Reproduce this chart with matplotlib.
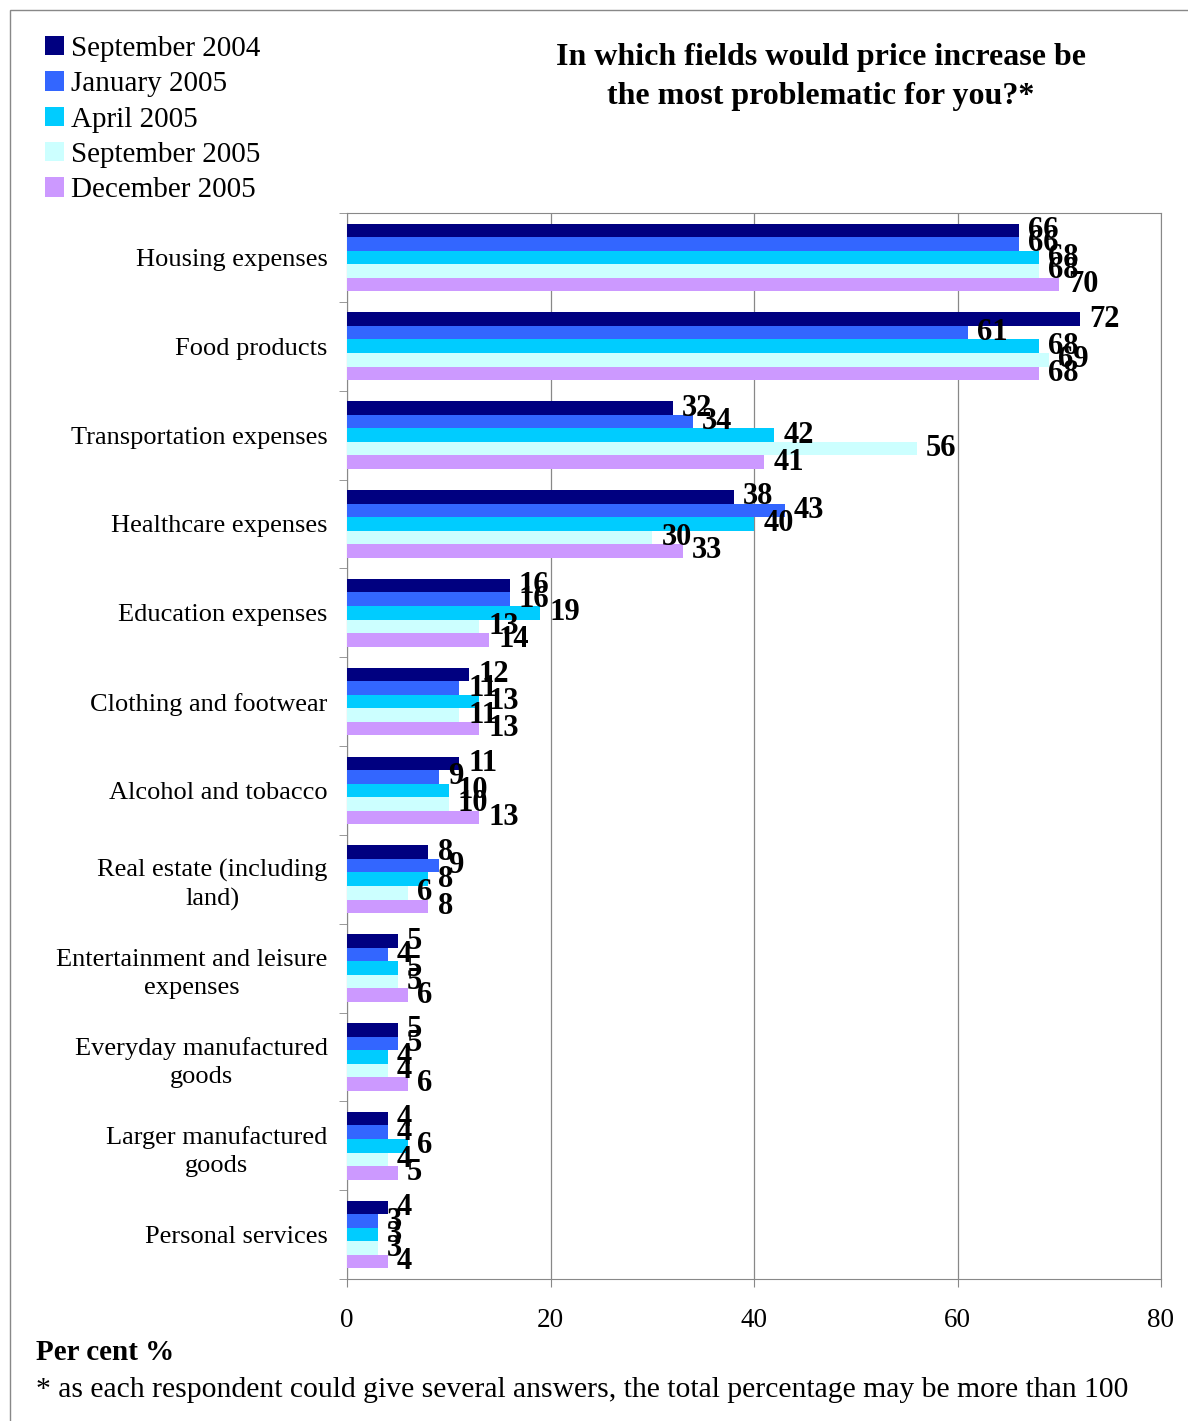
import numpy as np
import matplotlib.pyplot as plt
from matplotlib.patches import Rectangle

plt.rcParams['font.family'] = ['Liberation Serif', 'DejaVu Serif']

categories = ['Housing expenses', 'Food products', 'Transportation expenses',
              'Healthcare expenses', 'Education expenses', 'Clothing and footwear',
              'Alcohol and tobacco', 'Real estate (including\nland)',
              'Entertainment and leisure\nexpenses', 'Everyday manufactured\ngoods',
              'Larger manufactured\ngoods', 'Personal services']

sep_2004 = [66, 72, 32, 38, 16, 12, 11, 8, 5, 5, 4, 4]
jan_2005 = [66, 61, 34, 43, 16, 11, 9, 9, 4, 5, 4, 3]
apr_2005 = [68, 68, 42, 40, 19, 13, 10, 8, 5, 4, 6, 3]
sep_2005 = [68, 69, 56, 30, 13, 11, 10, 6, 5, 4, 4, 3]
dec_2005 = [70, 68, 41, 33, 14, 13, 13, 8, 6, 6, 5, 4]

series = [('September 2004', sep_2004, '#000080'),
          ('January 2005', jan_2005, '#3366FF'),
          ('April 2005', apr_2005, '#00CCFF'),
          ('September 2005', sep_2005, '#CCFFFF'),
          ('December 2005', dec_2005, '#CC99FF')]

fig = plt.figure(figsize=(11.88, 14.21), dpi=100)
ax = fig.add_axes([347 / 1188, 1 - 1279 / 1421, (1161 - 347) / 1188, (1279 - 213) / 1421])

y = np.arange(len(categories))
h = 0.152
handles = []
for i, (name, vals, col) in enumerate(series):
    pos = y - 2 * h + i * h
    b = ax.barh(pos, vals, height=h, color=col, label=name, zorder=3)
    handles.append(b)
    for p, v in zip(pos, vals):
        ax.text(v + 0.9, p, str(v), ha='left', va='center', fontsize=22,
                fontweight='bold', zorder=4)

ax.set_xlim(0, 80)
ax.set_ylim(len(categories) - 0.5, -0.5)
ax.set_xticks([0, 20, 40, 60, 80])
ax.tick_params(axis='x', labelsize=19.5, length=6, pad=15, color='#888888')
ax.set_yticks(y)
ax.set_yticklabels(categories, fontsize=19, multialignment='center', linespacing=1.35)
ax.tick_params(axis='y', which='major', length=0, pad=14)
ax.set_yticks(np.arange(-0.5, len(categories), 1), minor=True)
ax.tick_params(axis='y', which='minor', length=6, color='#888888')
ax.grid(axis='x', color='#888888', linewidth=0.9, zorder=0)
for s in ax.spines.values():
    s.set_color('#888888')

# outer frame
fig.patches.append(Rectangle((10 / 1188, -0.1), 1.2, 1 - 10 / 1421 + 0.1,
                             transform=fig.transFigure, fill=False,
                             edgecolor='#888888', linewidth=1))

fig.legend(handles=handles, loc='upper left', bbox_to_anchor=(45 / 1188, 1 - 36 / 1421),
           frameon=False, fontsize=21, handlelength=0.65, handleheight=0.65,
           handletextpad=0.25, labelspacing=0.32, borderaxespad=0, borderpad=0)

fig.text(821 / 1188, 1 - 77 / 1421, 'In which fields would price increase be\nthe most problematic for you?*',
         ha='center', va='center', fontsize=23, fontweight='bold', linespacing=1.48)
fig.text(36 / 1188, 1 - 1353 / 1421, 'Per cent %', ha='left', va='center',
         fontsize=21, fontweight='bold')
fig.text(36 / 1188, 1 - 1390 / 1421,
         '* as each respondent could give several answers, the total percentage may be more than 100',
         ha='left', va='center', fontsize=21.3)

fig.savefig('out.png', dpi=100)
